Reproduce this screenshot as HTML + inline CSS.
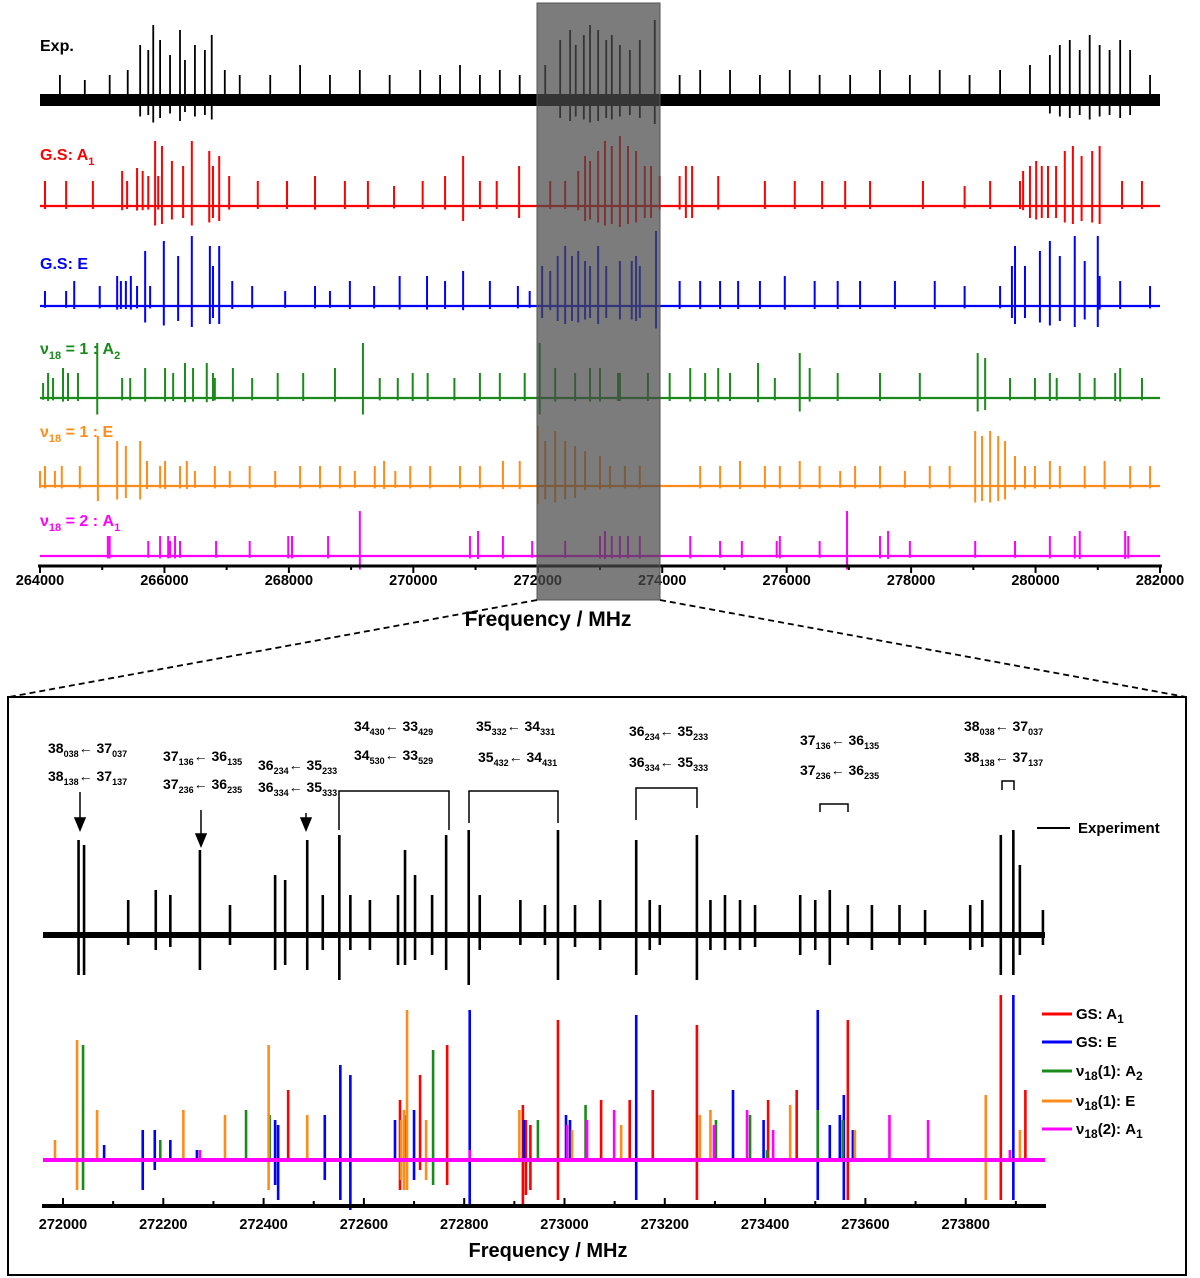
<!DOCTYPE html>
<html><head><meta charset="utf-8">
<style>
html,body{margin:0;padding:0;background:#fff;}
svg{display:block;font-family:"Liberation Sans",Arial,sans-serif;font-weight:bold;}
</style></head>
<body>
<svg id="chart" width="1200" height="1278" viewBox="0 0 1200 1278" xmlns="http://www.w3.org/2000/svg">
<g id="topPanel"></g>
<g id="botPanel"></g>
</svg>
<script>
// ---------- TOP PANEL DATA (MHz, intensity) ----------
const topTicks = [264000,266000,268000,270000,272000,274000,276000,278000,280000,282000];
const expF = [264320,264720,265120,265410,265610,265740,265820,265930,266090,266250,266330,266490,266650,266760,266970,267210,267700,268180,268660,269140,269620,270110,270430,270750,271070,271390,271710,272120,272360,272520,272610,272740,272840,272970,273100,273190,273320,273480,273640,273880,274280,274610,275090,275570,276050,276530,277020,277500,277980,278460,278940,279430,279910,280230,280390,280550,280710,280870,281030,281190,281360,281520,281840];
const expA = [25,20,25,30,55,50,75,60,45,70,40,55,50,65,30,25,25,35,25,30,25,30,25,35,25,30,25,35,60,70,55,65,75,70,60,65,55,50,60,80,25,30,30,25,30,25,25,30,25,30,25,30,35,45,55,60,50,65,55,50,60,50,25];
const redF = [264080,264420,264850,265320,265400,265560,265650,265740,265850,265900,265960,266120,266300,266440,266720,266780,266880,267040,267500,267970,268420,268900,269270,269690,270150,270510,270800,271070,271340,271700,272200,272440,272650,272760,272840,272970,273080,273190,273320,273450,273580,273720,273820,273960,274280,274380,274480,274900,275650,276130,276570,276940,277340,278190,278860,279270,279750,279800,279910,280010,280100,280200,280330,280470,280600,280740,280910,281030,281390,281710];
const redA = [25,25,25,35,25,38,35,30,65,30,60,45,40,65,55,40,50,30,25,25,30,25,25,20,25,30,50,25,25,40,25,25,35,50,45,55,65,60,70,60,55,40,40,30,30,40,40,30,25,25,25,25,25,25,20,25,25,35,40,45,40,40,40,55,60,50,55,60,25,25];
const blueF = [264080,264420,264550,264960,265240,265300,265380,265460,265560,265690,265770,265990,266220,266440,266730,266780,266880,267090,267410,267940,268420,268660,268980,269370,269780,270220,270510,270800,271230,271680,271870,272070,272200,272320,272440,272550,272650,272760,272840,272970,273100,273320,273510,273580,273640,273900,274280,274610,274930,275220,275570,275970,276450,276820,277180,277740,278380,278860,279430,279620,279670,279830,280070,280230,280390,280630,280790,281000,281030,281360,281840];
const blueA = [15,15,25,20,30,25,25,30,20,55,20,65,50,70,60,40,60,25,20,15,20,15,25,20,30,30,25,35,25,20,15,40,35,50,60,50,55,45,40,60,40,45,45,50,40,75,25,25,25,25,25,30,25,25,25,25,25,20,20,40,60,40,55,65,50,70,45,70,30,25,20];
const greenF = [264050,264130,264210,264370,264450,264610,264920,265320,265450,265690,266010,266140,266330,266460,266680,266780,266810,267100,267410,267820,268230,268740,269190,269460,269750,269990,270230,270660,271070,271390,271790,272030,272280,272600,272840,273000,273290,273320,273770,274120,274450,274690,274900,275090,275540,275810,276210,276370,276820,277500,278140,279070,279190,279590,279990,280230,280340,280710,280950,281280,281360,281710];
const greenA = [15,25,20,30,25,25,55,20,20,30,30,25,35,30,35,25,20,30,20,25,25,30,55,20,20,25,25,20,25,25,25,55,30,25,30,30,25,25,25,25,30,25,30,25,35,20,45,30,25,25,25,45,40,20,20,25,20,25,20,25,30,20];
const orangeF = [264000,264080,264240,264350,264640,264930,265240,265380,265610,265720,265930,266010,266250,266360,266490,266810,267050,267370,267780,268180,268500,268820,269060,269380,269530,269710,269950,270270,270750,271070,271440,271710,272000,272120,272280,272440,272600,272760,273000,273160,273400,273640,274610,274930,275250,275650,275890,276210,276530,276860,277100,277500,277900,278300,278620,279030,279140,279270,279400,279510,279670,279830,279990,280230,280390,280790,281110,281520,281840];
const orangeA = [15,20,15,20,20,50,45,40,45,25,20,25,20,25,15,20,15,20,15,20,20,20,15,20,25,15,20,20,20,20,25,25,60,45,55,45,40,35,30,20,20,20,20,20,25,20,20,25,20,15,20,20,15,20,20,55,50,55,50,45,30,20,20,25,20,20,25,20,20];
const magF = [265090,265120,265740,265930,266060,266090,266170,266250,266830,267370,267990,268050,268630,269140,270910,271040,271440,271910,272440,273000,273080,273190,273320,273450,273640,274450,274930,275280,275840,275890,276530,276970,277500,277630,277980,279030,279670,280230,280630,280710,281440,281490];
const magA = [20,20,15,20,20,15,20,15,15,15,20,20,20,45,20,25,20,15,15,20,25,20,20,20,20,20,15,15,15,20,15,45,20,25,15,15,15,20,20,25,25,20];

// ---------- BOTTOM PANEL DATA ----------
const botTicks = [272000,272200,272400,272600,272800,273000,273200,273400,273600,273800];
const bExpF = [272031,272042,272130,272185,272214,272273,272333,272423,272443,272487,272518,272551,272573,272612,272668,272682,272702,272736,272764,272809,272831,272912,272961,272987,273021,273071,273143,273170,273190,273264,273291,273320,273350,273380,273470,273500,273529,273565,273613,273668,273719,273809,273833,273870,273895,273908,273954];
const bExpUp = [95,90,35,45,40,85,30,60,55,95,40,100,40,35,40,85,60,40,100,105,40,35,30,105,30,35,95,35,30,100,35,40,35,30,40,35,45,30,30,30,25,30,35,100,105,70,25];
const bExpDn = [40,40,10,15,12,35,10,35,30,35,15,45,15,15,30,30,25,20,35,50,15,10,10,45,12,15,40,15,10,45,15,15,15,12,20,15,30,10,15,10,10,15,12,40,40,20,10];
const bRedF = [272449,272672,272682,272712,272766,272917,272923,272932,272987,273073,273130,273176,273264,273406,273463,273565,273870,273919];
const bRedUp = [70,60,45,85,115,55,40,35,140,60,60,70,135,60,70,140,165,70];
const bRedDn = [0,30,0,10,25,45,35,30,40,0,0,0,40,0,0,40,40,0];
const bBlueF = [272082,272159,272183,272214,272267,272423,272429,272522,272553,272573,272662,272700,272811,272919,273003,273011,273143,273336,273397,273505,273529,273549,273557,273575,273895];
const bBlueUp = [15,30,30,20,10,40,35,45,95,85,40,50,150,40,45,40,145,70,40,150,35,45,65,30,165];
const bBlueDn = [0,30,10,0,0,25,40,20,40,50,0,20,45,0,0,0,40,0,0,40,0,0,40,0,40];
const bGreenF = [272040,272194,272365,272412,272738,272947,273042,273302,273370,273404,273505,273555];
const bGreenUp = [115,20,50,45,110,40,55,40,45,10,50,40];
const bGreenDn = [30,0,0,0,25,0,0,0,0,0,0,0];
const bOrangeF = [271984,272028,272068,272240,272323,272410,272487,272674,272680,272686,272724,272910,273015,273113,273270,273291,273450,273579,273840,273908];
const bOrangeUp = [20,120,50,50,45,115,45,40,50,150,40,50,30,35,45,50,55,30,65,30];
const bOrangeDn = [0,30,0,0,0,30,0,20,30,30,20,0,0,0,0,0,0,0,40,0];
const bMagF = [272273,272811,273005,273045,273099,273298,273364,273416,273648,273725,273888];
const bMagUp = [10,10,35,40,50,35,50,30,45,40,10];
const bMagDn = [0,0,0,0,0,0,0,0,0,0,0];

const NS = "http://www.w3.org/2000/svg";
const C = {red:"#ff0000",blue:"#0000ff",green:"#1a8a1a",orange:"#ff8c1a",mag:"#ff00ff",black:"#000"};
function mk(tag, attrs, parent){const e=document.createElementNS(NS,tag);for(const k in attrs)e.setAttribute(k,attrs[k]);parent.appendChild(e);return e;}

const xTop = f => 40 + (f-264000)/18000*1120;
const xBot = f => 63 + (f-272000)/200*100.3;

const topG = document.getElementById('topPanel');
const botG = document.getElementById('botPanel');

function series(parent, F, A, D, xs, y0, color, w, name, x0, x1, bw){
  const g = mk('g',{},parent);
  
  
  const bl = mk('line',{x1:x0,x2:x1,y1:y0,y2:y0,stroke:color,'stroke-width':bw||2.2},g);
  
  
  for(let i=0;i<F.length;i++){
    const x = xs(F[i]);
    const dn = D ? D[i] : (A[i]>=40 ? A[i]*0.3 : A[i]*0.12);
    const l = mk('line',{x1:x,x2:x,y1:y0-A[i],y2:y0+dn,stroke:color,'stroke-width':w},g);
    
    
  }
  return g;
}

// ---- top panel ----
const band = mk('rect',{x:40,y:94,width:1120,height:12,fill:'#000'},topG);


series(topG, expF, expA, null, xTop, 100, C.black, 1.8, 'exp-trace', 40, 1160);
series(topG, redF, redA, null, xTop, 206, C.red, 2, 'gs-a1-trace', 40, 1160);
series(topG, blueF, blueA, null, xTop, 306, C.blue, 2, 'gs-e-trace', 40, 1160);
series(topG, greenF, greenA, null, xTop, 398, C.green, 2, 'v18-1-a2-trace', 40, 1160);
series(topG, orangeF, orangeA, null, xTop, 486, C.orange, 2, 'v18-1-e-trace', 40, 1160);
series(topG, magF, magA, null, xTop, 556, C.mag, 2, 'v18-2-a1-trace', 40, 1160);

const ax = mk('line',{x1:38,x2:1162,y1:566,y2:566,stroke:'#000','stroke-width':3},topG);


for(let t=264000;t<=282000;t+=1000){
  const x=xTop(t);
  const tk=mk('line',{x1:x,x2:x,y1:566,y2:t%2000===0?573:570,stroke:'#000','stroke-width':2},topG);
  
  
}
topTicks.forEach(t=>{
  const tx=mk('text',{x:xTop(t),y:585,'text-anchor':'middle','font-size':14.5,fill:'#000'},topG);
  tx.textContent=t;
  
  
});

// ---- bottom panel ----
const bband = mk('rect',{x:43,y:932,width:1002,height:6,fill:'#000'},botG);


series(botG, bExpF, bExpUp, bExpDn, xBot, 935, C.black, 2.6, 'exp-zoom-trace', 43, 1045);
series(botG, bRedF, bRedUp, bRedDn, xBot, 1160, C.red, 2.6, 'gs-a1-sim', 43, 1045);
series(botG, bBlueF, bBlueUp, bBlueDn, xBot, 1160, C.blue, 2.6, 'gs-e-sim', 43, 1045);
series(botG, bGreenF, bGreenUp, bGreenDn, xBot, 1160, C.green, 2.6, 'v18-1-a2-sim', 43, 1045);
series(botG, bOrangeF, bOrangeUp, bOrangeDn, xBot, 1160, C.orange, 2.6, 'v18-1-e-sim', 43, 1045);
series(botG, bMagF, bMagUp, bMagDn, xBot, 1160, C.mag, 2.6, 'v18-2-a1-sim', 43, 1045, 4);

const bax = mk('line',{x1:42,x2:1046,y1:1206,y2:1206,stroke:'#000','stroke-width':4},botG);


for(let t=272000;t<=273900;t+=100){
  const x=xBot(t);
  const tk=mk('line',{x1:x,x2:x,y1:t%200===0?1198:1201,y2:1206,stroke:'#000','stroke-width':2},botG);
  
  
}
botTicks.forEach(t=>{
  const tx=mk('text',{x:xBot(t),y:1229,'text-anchor':'middle','font-size':14.5,fill:'#000'},botG);
  tx.textContent=t;
  
  
});
</script>
<svg style="position:absolute;left:0;top:0" width="1200" height="1278" xmlns="http://www.w3.org/2000/svg" font-family="Liberation Sans, Arial, sans-serif" font-weight="bold">
  <rect x="537" y="3" width="123" height="597" fill="#4a4a4a" fill-opacity="0.72" stroke="#555" stroke-width="1"/>
  <text x="548" y="626" font-size="21" text-anchor="middle">Frequency / MHz</text>
  <line x1="537" y1="600" x2="9" y2="697" stroke="#000" stroke-width="1.8" stroke-dasharray="6,4"/>
  <line x1="660" y1="600" x2="1186" y2="697" stroke="#000" stroke-width="1.8" stroke-dasharray="6,4"/>
  <rect x="8" y="697" width="1178" height="578" fill="none" stroke="#000" stroke-width="2"/>
  <g font-size="16">
    <text x="40" y="51" fill="#000">Exp.</text>
    <text x="40" y="160" fill="#ff0000">G.S: A<tspan font-size="11" dy="5">1</tspan></text>
    <text x="40" y="269" fill="#0000ff">G.S: E</text>
    <text x="40" y="354" fill="#1a8a1a">ν<tspan font-size="11" dy="5">18</tspan><tspan dy="-5"> = 1 : A</tspan><tspan font-size="11" dy="5">2</tspan></text>
    <text x="40" y="437" fill="#ff8c1a">ν<tspan font-size="11" dy="5">18</tspan><tspan dy="-5"> = 1 : E</tspan></text>
    <text x="40" y="526" fill="#ff00ff">ν<tspan font-size="11" dy="5">18</tspan><tspan dy="-5"> = 2 : A</tspan><tspan font-size="11" dy="5">1</tspan></text>
  </g>
  <text x="548" y="1257" font-size="20" text-anchor="middle">Frequency / MHz</text>
  <g font-size="14" fill="#000">
    <text x="48" y="753">38<tspan font-size="9" dy="4">038</tspan><tspan dy="-4">← 37</tspan><tspan font-size="9" dy="4">037</tspan></text>
    <text x="48" y="781">38<tspan font-size="9" dy="4">138</tspan><tspan dy="-4">← 37</tspan><tspan font-size="9" dy="4">137</tspan></text>
    <text x="163" y="761">37<tspan font-size="9" dy="4">136</tspan><tspan dy="-4">← 36</tspan><tspan font-size="9" dy="4">135</tspan></text>
    <text x="163" y="789">37<tspan font-size="9" dy="4">236</tspan><tspan dy="-4">← 36</tspan><tspan font-size="9" dy="4">235</tspan></text>
    <text x="258" y="770">36<tspan font-size="9" dy="4">234</tspan><tspan dy="-4">← 35</tspan><tspan font-size="9" dy="4">233</tspan></text>
    <text x="258" y="792">36<tspan font-size="9" dy="4">334</tspan><tspan dy="-4">← 35</tspan><tspan font-size="9" dy="4">333</tspan></text>
    <text x="354" y="731">34<tspan font-size="9" dy="4">430</tspan><tspan dy="-4">← 33</tspan><tspan font-size="9" dy="4">429</tspan></text>
    <text x="354" y="760">34<tspan font-size="9" dy="4">530</tspan><tspan dy="-4">← 33</tspan><tspan font-size="9" dy="4">529</tspan></text>
    <text x="476" y="731">35<tspan font-size="9" dy="4">332</tspan><tspan dy="-4">← 34</tspan><tspan font-size="9" dy="4">331</tspan></text>
    <text x="478" y="762">35<tspan font-size="9" dy="4">432</tspan><tspan dy="-4">← 34</tspan><tspan font-size="9" dy="4">431</tspan></text>
    <text x="629" y="736">36<tspan font-size="9" dy="4">234</tspan><tspan dy="-4">← 35</tspan><tspan font-size="9" dy="4">233</tspan></text>
    <text x="629" y="767">36<tspan font-size="9" dy="4">334</tspan><tspan dy="-4">← 35</tspan><tspan font-size="9" dy="4">333</tspan></text>
    <text x="800" y="745">37<tspan font-size="9" dy="4">136</tspan><tspan dy="-4">← 36</tspan><tspan font-size="9" dy="4">135</tspan></text>
    <text x="800" y="775">37<tspan font-size="9" dy="4">236</tspan><tspan dy="-4">← 36</tspan><tspan font-size="9" dy="4">235</tspan></text>
    <text x="964" y="731">38<tspan font-size="9" dy="4">038</tspan><tspan dy="-4">← 37</tspan><tspan font-size="9" dy="4">037</tspan></text>
    <text x="964" y="762">38<tspan font-size="9" dy="4">138</tspan><tspan dy="-4">← 37</tspan><tspan font-size="9" dy="4">137</tspan></text>
  </g>
  <g stroke="#000" stroke-width="1.5" fill="none">
    <line x1="80" y1="792" x2="80" y2="822"/><polygon points="75,818 85,818 80,830" fill="#000"/>
    <line x1="201" y1="810" x2="201" y2="838"/><polygon points="196,834 206,834 201,846" fill="#000"/>
    <line x1="306" y1="813" x2="306" y2="822"/><polygon points="301,818 311,818 306,830" fill="#000"/>
    <polyline points="339,830 339,791 449,791 449,830"/>
    <polyline points="469,823 469,791 558,791 558,823"/>
    <polyline points="636,820 636,788 697,788 697,808"/>
    <polyline points="820,812 820,804 848,804 848,812"/>
    <polyline points="1002,790 1002,781 1014,781 1014,790"/>
  </g>
  <g font-size="15">
    <line x1="1037" y1="828" x2="1070" y2="828" stroke="#000" stroke-width="2"/>
    <text x="1078" y="833">Experiment</text>
    <line x1="1042" y1="1014" x2="1072" y2="1014" stroke="#ff0000" stroke-width="3"/>
    <text x="1076" y="1019">GS: A<tspan font-size="12" dy="4">1</tspan></text>
    <line x1="1042" y1="1042" x2="1072" y2="1042" stroke="#0000ff" stroke-width="3"/>
    <text x="1076" y="1047">GS: E</text>
    <line x1="1042" y1="1071" x2="1072" y2="1071" stroke="#1a8a1a" stroke-width="3"/>
    <text x="1076" y="1076">ν<tspan font-size="12" dy="4">18</tspan><tspan dy="-4">(1): A</tspan><tspan font-size="12" dy="4">2</tspan></text>
    <line x1="1042" y1="1101" x2="1072" y2="1101" stroke="#ff8c1a" stroke-width="3"/>
    <text x="1076" y="1106">ν<tspan font-size="12" dy="4">18</tspan><tspan dy="-4">(1): E</tspan></text>
    <line x1="1042" y1="1129" x2="1072" y2="1129" stroke="#ff00ff" stroke-width="3"/>
    <text x="1076" y="1134">ν<tspan font-size="12" dy="4">18</tspan><tspan dy="-4">(2): A</tspan><tspan font-size="12" dy="4">1</tspan></text>
  </g>
</svg>
</body></html>
